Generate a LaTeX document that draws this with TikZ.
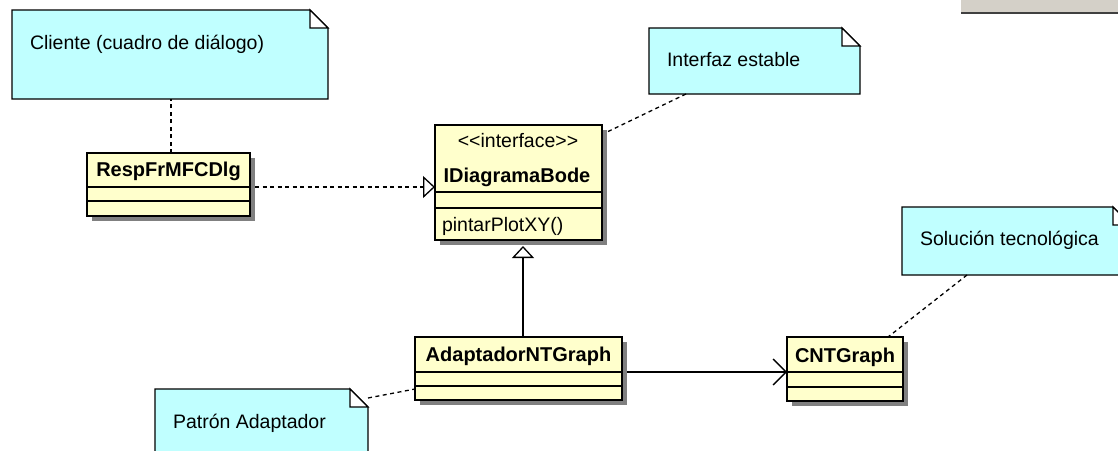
\documentclass[tikz,border=0pt]{standalone}
\usepackage{fontspec}
\setmainfont{Liberation Sans}
\usetikzlibrary{arrows.meta,shadows,calc}

\definecolor{classfill}{RGB}{255,255,204}
\definecolor{notefill}{RGB}{192,255,255}
\definecolor{shadowgray}{RGB}{128,128,128}
\definecolor{panelgray}{RGB}{212,208,200}
\definecolor{paneledge}{RGB}{64,64,64}

% outline of a UML note with a folded top-right corner
\newcommand\foldednote[1]{%
  \filldraw[notedraw] (#1.north west) -- ([xshift=-18pt]#1.north east)
    -- ([yshift=-18pt]#1.north east) -- (#1.south east) -- (#1.south west) -- cycle;
  \filldraw[notedraw, fill=white] ([xshift=-18pt]#1.north east)
    -- ([yshift=-18pt]#1.north east) -- ([xshift=-18pt,yshift=-18pt]#1.north east) -- cycle;}

\begin{document}
\begin{tikzpicture}[x=1pt,y=-1pt,
  every node/.style={inner sep=0pt, outer sep=0pt},
  txt/.style={font=\fontsize{19.5}{23}\selectfont},
  bold/.style={font=\fontsize{20}{24}\selectfont\bfseries},
  classbox/.style={draw=black, line width=1.3pt, fill=classfill,
    drop shadow={shadow xshift=5pt, shadow yshift=-5pt, fill=shadowgray, opacity=1}},
  notebox/.style={},
  notedraw/.style={draw=black, line width=1.3pt, fill=notefill, line join=miter},
  compline/.style={draw=black, line width=1.3pt},
  notelink/.style={draw=black, line width=1.3pt, dash pattern=on 4pt off 3.5pt},
  realize/.style={draw=black, line width=1.3pt, dash pattern=on 4pt off 3.5pt,
    -{Triangle[open, length=12pt, width=22pt]}},
  inherit/.style={draw=black, line width=1.3pt, -{Triangle[open, length=12pt, width=22pt]}},
  assoc/.style={draw=black, line width=1.3pt, -{Straight Barb[length=13pt, width=26pt]}}]

\useasboundingbox (0,0) rectangle (1118,450);
\clip (0,0) rectangle (1118,450);
\fill[white] (0,0) rectangle (1118,450);

% window fragment at the top right
\node[fill=panelgray, minimum width=157pt, minimum height=13pt, anchor=north west] (panel) at (961,0) {};
\draw[paneledge, line width=1.5pt] (panel.south west) -- (panel.south east);

% notes
\node[notebox, minimum width=316pt, minimum height=89pt] (cliente) at (170,54.5) {};
\node[notebox, minimum width=211pt, minimum height=66pt] (estable) at (754.5,61) {};
\node[notebox, minimum width=229pt, minimum height=68pt] (solucion) at (1016.5,241) {};
\node[notebox, minimum width=213pt, minimum height=81pt] (patron) at (261.5,429.5) {};
\foldednote{cliente}
\foldednote{estable}
\foldednote{solucion}
\foldednote{patron}
\node[txt, anchor=base west] (clientetxt) at (30,49) {Cliente (cuadro de diálogo)};
\node[txt, anchor=base west] (establetxt) at (667,66) {Interfaz estable};
\node[txt, anchor=base west] (soluciontxt) at (920,245) {Solución tecnológica};
\node[txt, anchor=base west] (patrontxt) at (173,428) {Patrón Adaptador};

% classes
\node[classbox, minimum width=163pt, minimum height=63pt] (resp) at (168.5,184.5) {};
\node[classbox, minimum width=167pt, minimum height=115pt] (iface) at (518.5,182.5) {};
\node[classbox, minimum width=207pt, minimum height=63pt] (adapt) at (518.5,368.5) {};
\node[classbox, minimum width=116pt, minimum height=64pt] (cnt) at (845,369) {};

% compartment separators
\draw[compline] ($(resp.north west)+(0,34)$) -- ($(resp.north east)+(0,34)$);
\draw[compline] ($(resp.north west)+(0,48)$) -- ($(resp.north east)+(0,48)$);
\draw[compline] ($(iface.north west)+(0,67)$) -- ($(iface.north east)+(0,67)$);
\draw[compline] ($(iface.north west)+(0,83)$) -- ($(iface.north east)+(0,83)$);
\draw[compline] ($(adapt.north west)+(0,35)$) -- ($(adapt.north east)+(0,35)$);
\draw[compline] ($(adapt.north west)+(0,49)$) -- ($(adapt.north east)+(0,49)$);
\draw[compline] ($(cnt.north west)+(0,35)$) -- ($(cnt.north east)+(0,35)$);
\draw[compline] ($(cnt.north west)+(0,50)$) -- ($(cnt.north east)+(0,50)$);

% class texts (kerns keep the angle brackets from merging into guillemets)
\node[bold, anchor=base] (respname) at (168.5,176) {RespFrMFCDlg};
\node[txt, anchor=base] (ifacestereo) at (518,147)
  {\textless\kern0pt\textless\kern0pt interface\kern0pt\textgreater\kern0pt\textgreater};
\node[bold, anchor=base] (ifacename) at (517,182) {IDiagramaBode};
\node[txt, anchor=base west] (ifaceop) at (442,231) {pintarPlotXY()};
\node[bold, anchor=base] (adaptname) at (518.5,361) {AdaptadorNTGraph};
\node[bold, anchor=base] (cntname) at (845,362) {CNTGraph};

% note attachments
\draw[notelink] ([xshift=2.5pt]resp.north) -- ([xshift=2.5pt]resp.north |- cliente.south);
\draw[notelink] ([xshift=37pt]estable.south west) -- ([xshift=3pt,yshift=-8pt]iface.north east);
\draw[notelink] ([xshift=65pt]solucion.south west) -- ([xshift=-15pt]cnt.north east);
\draw[notelink] ([yshift=-9pt]patron.north east) -- ([yshift=11pt]adapt.south west);

% relationships
\draw[realize] ([xshift=5pt,yshift=-2.5pt]resp.east) -- ([yshift=-2.5pt]resp.east -| iface.west);
\draw[inherit] ([xshift=4.5pt]adapt.north) -- ([xshift=4.5pt,yshift=-6pt]iface.south);
\draw[assoc] ([xshift=5pt,yshift=-3.5pt]adapt.east) -- ([yshift=-3.5pt]adapt.east -| cnt.west);

\end{tikzpicture}
\end{document}
